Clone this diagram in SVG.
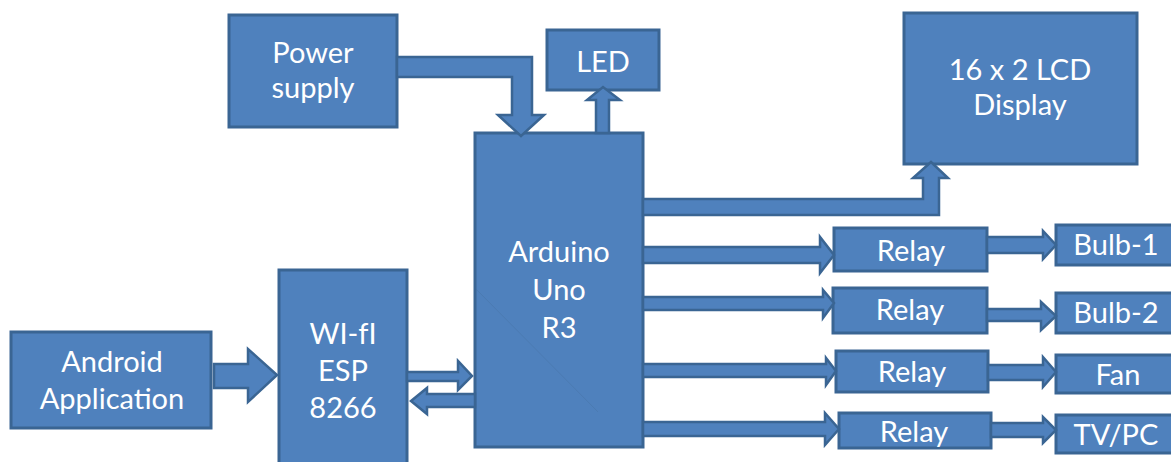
<svg xmlns="http://www.w3.org/2000/svg" width="1171" height="462" viewBox="0 0 1171 462">
<style>
.box{fill:#4f81bd;stroke:#3a6593;stroke-width:3}
.arr{fill:#4f81bd;stroke:#3a6593;stroke-width:2.5;stroke-linejoin:miter}
text{font-family:Lato,"Open Sans","Liberation Sans",sans-serif;font-size:29px;fill:#ffffff;text-anchor:middle}
</style>
<rect width="1171" height="462" fill="#ffffff"/>
<g id="power-supply"><rect class="box" x="229" y="15" width="168" height="112"/><text x="313" y="63">Power</text><text x="313" y="98">supply</text></g>
<g id="led"><rect class="box" x="547" y="30" width="112" height="60"/><text x="603" y="72">LED</text></g>
<g id="lcd"><rect class="box" x="904" y="13" width="233" height="151"/><text x="1020" y="80">16 x 2 LCD</text><text x="1020" y="115">Display</text></g>
<g id="arduino"><rect class="box" x="475" y="133" width="168" height="314"/><line x1="476" y1="289" x2="598" y2="412" stroke="#46709f" stroke-width="1" opacity="0.35"/><text x="559" y="262">Arduino</text><text x="559" y="300">Uno</text><text x="559" y="338">R3</text></g>
<g id="wifi"><rect class="box" x="279" y="270" width="128" height="200"/><text x="343" y="344">WI-fI</text><text x="343" y="381">ESP</text><text x="343" y="418">8266</text></g>
<g id="android"><rect class="box" x="11" y="332" width="200" height="96"/><text x="112" y="372">Android</text><text x="112" y="409">Application</text></g>
<g id="relay1"><rect class="box" x="834" y="228" width="153" height="43"/><text x="911" y="261">Relay</text></g>
<g id="relay2"><rect class="box" x="833" y="288" width="154" height="45"/><text x="910" y="320">Relay</text></g>
<g id="relay3"><rect class="box" x="836" y="351" width="152" height="41"/><text x="912" y="382">Relay</text></g>
<g id="relay4"><rect class="box" x="839" y="413" width="152" height="35"/><text x="914" y="442">Relay</text></g>
<g id="bulb1"><rect class="box" x="1056" y="225" width="124" height="40"/><text x="1116" y="255">Bulb-1</text></g>
<g id="bulb2"><rect class="box" x="1056" y="293" width="124" height="40"/><text x="1116" y="323">Bulb-2</text></g>
<g id="fan"><rect class="box" x="1056" y="355" width="124" height="38"/><text x="1118" y="385">Fan</text></g>
<g id="tvpc"><rect class="box" x="1056" y="415" width="124" height="38"/><text x="1116" y="445">TV/PC</text></g>
<g id="connectors">
<polygon class="arr" points="397,57 532,57 532,115 544,115 521,136 498,115 512,115 512,77 397,77"/>
<polygon class="arr" points="596,133 596,100 587,100 603,87 620,100 609,100 609,133"/>
<polygon class="arr" points="643,199 923,199 923,178 913,178 931,162 948,178 939,178 939,215 643,215"/>
<polygon class="arr" points="214,364 248,364 248,349 277,375 248,402 248,388 214,388"/>
<polygon class="arr" points="407,372 458,372 458,361 472,376 458,390 458,381 407,381"/>
<polygon class="arr" points="475,394 427,394 427,388 411,401 427,414 427,407 475,407"/>
<polygon class="arr" points="643,247 820,247 820,237 834,255 820,273 820,263 643,263"/>
<polygon class="arr" points="643,297 823,297 823,290 834,303 823,318 823,310 643,310"/>
<polygon class="arr" points="643,364 826,364 826,358 836,371 826,385 826,377 643,377"/>
<polygon class="arr" points="643,422 825,422 825,413 839,429 825,445 825,436 643,436"/>
<polygon class="arr" points="987,237 1043,237 1043,231 1056,245 1043,259 1043,253 987,253"/>
<polygon class="arr" points="987,309 1041,309 1041,302 1056,316 1041,330 1041,321 987,321"/>
<polygon class="arr" points="988,365 1043,365 1043,357 1056,372 1043,387 1043,380 988,380"/>
<polygon class="arr" points="991,423 1043,423 1043,417 1056,430 1043,443 1043,437 991,437"/>
</g>
</svg>
